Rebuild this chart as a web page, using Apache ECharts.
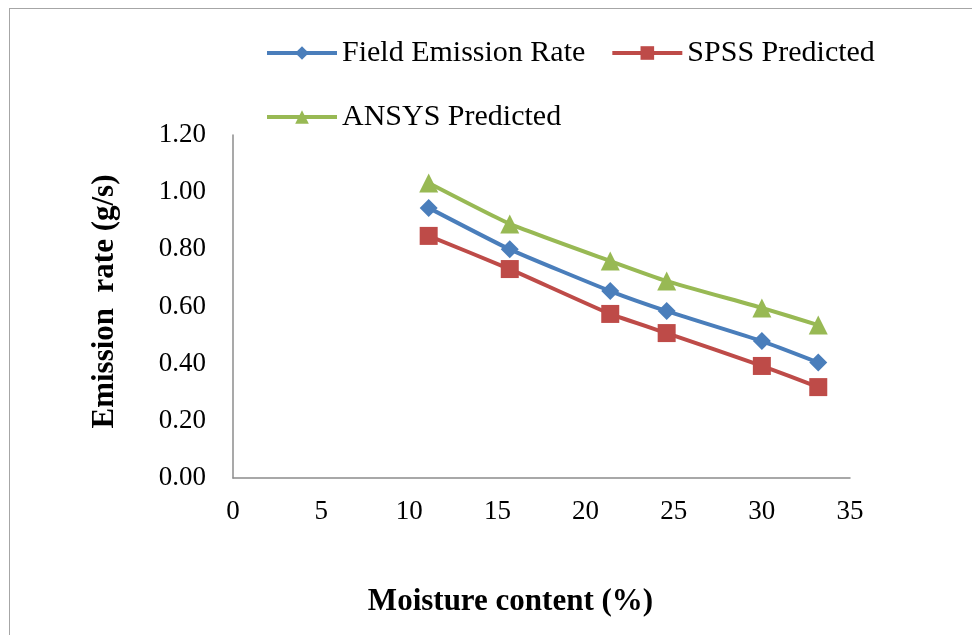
<!DOCTYPE html>
<html><head><meta charset="utf-8">
<script src="https://cdn.jsdelivr.net/npm/echarts@6/dist/echarts.min.js"></script>
<style>
html,body{margin:0;padding:0;background:#fff;}
#frame{position:absolute;left:9px;top:8px;width:980px;height:640px;border:1.5px solid #a6a6a6;box-sizing:border-box;}
#c{position:absolute;left:0;top:0;width:972px;height:635px;}
</style></head>
<body>
<div id="frame"></div>
<div id="c"></div>
<script>
var moisture = [11.1, 15.7, 21.4, 24.6, 30.0, 33.2];
var fieldRate = [0.945, 0.800, 0.654, 0.584, 0.479, 0.404];
var spssPred = [0.847, 0.731, 0.574, 0.507, 0.392, 0.318];
var ansysPred = [1.032, 0.889, 0.759, 0.689, 0.595, 0.535];
var xTicks = [0, 5, 10, 15, 20, 25, 30, 35];
var yTicks = [0, 0.2, 0.4, 0.6, 0.8, 1.0, 1.2];

function pairs(xs, ys){ return xs.map(function(x,i){ return [x, ys[i]]; }); }

var FONT = 'Liberation Serif';
var chart = echarts.init(document.getElementById('c'));
var legendText = {fontFamily: FONT, fontSize: 30, color: '#000'};
var legendCommon = {itemWidth: 70, itemHeight: 17, textStyle: legendText, padding: 0, lineStyle: {width: 4}};
chart.setOption({
  animation: false,
  backgroundColor: 'transparent',
  textStyle: {fontFamily: FONT},
  grid: {left: 233, top: 135, right: 122, bottom: 157, containLabel: false},
  legend: [
    Object.assign({data: ['Field Emission Rate', 'SPSS Predicted'], left: 265, top: 38, itemGap: 25}, legendCommon),
    Object.assign({data: ['ANSYS Predicted'], left: 265, top: 102}, legendCommon)
  ],
  xAxis: {
    type: 'value', min: xTicks[0], max: xTicks[xTicks.length-1], interval: 5,
    name: 'Moisture content (%)', nameLocation: 'middle', nameGap: 108,
    nameTextStyle: {fontFamily: FONT, fontSize: 31, fontWeight: 'bold', color: '#000', padding: [0, 62, 0, 0]},
    axisLine: {lineStyle: {color: '#8c8c8c', width: 1.5}},
    axisTick: {show: false},
    splitLine: {show: false},
    axisLabel: {fontFamily: FONT, fontSize: 27, color: '#000', margin: 20}
  },
  yAxis: {
    type: 'value', min: yTicks[0], max: yTicks[yTicks.length-1], interval: 0.2,
    name: 'Emission  rate (g/s)', nameLocation: 'middle', nameGap: 113,
    nameTextStyle: {fontFamily: FONT, fontSize: 31, fontWeight: 'bold', color: '#000', padding: [0, 0, 0, 10]},
    axisLine: {show: true, lineStyle: {color: '#8c8c8c', width: 1.5}},
    axisTick: {show: false},
    splitLine: {show: false},
    axisLabel: {fontFamily: FONT, fontSize: 27, color: '#000', margin: 27, formatter: function(v){ return v.toFixed(2); }}
  },
  series: [
    {name: 'Field Emission Rate', type: 'line', data: pairs(moisture, fieldRate), smooth: 0.15,
     symbol: 'diamond', symbolSize: 18, lineStyle: {width: 4, color: '#4A7EBB'}, itemStyle: {color: '#4A7EBB'}},
    {name: 'SPSS Predicted', type: 'line', data: pairs(moisture, spssPred), smooth: 0.15,
     symbol: 'rect', symbolSize: 18, lineStyle: {width: 4, color: '#BE4B48'}, itemStyle: {color: '#BE4B48'}},
    {name: 'ANSYS Predicted', type: 'line', data: pairs(moisture, ansysPred), smooth: 0.15,
     symbol: 'triangle', symbolSize: 19, lineStyle: {width: 4, color: '#98B954'}, itemStyle: {color: '#98B954'}}
  ]
});
</script>
</body></html>
